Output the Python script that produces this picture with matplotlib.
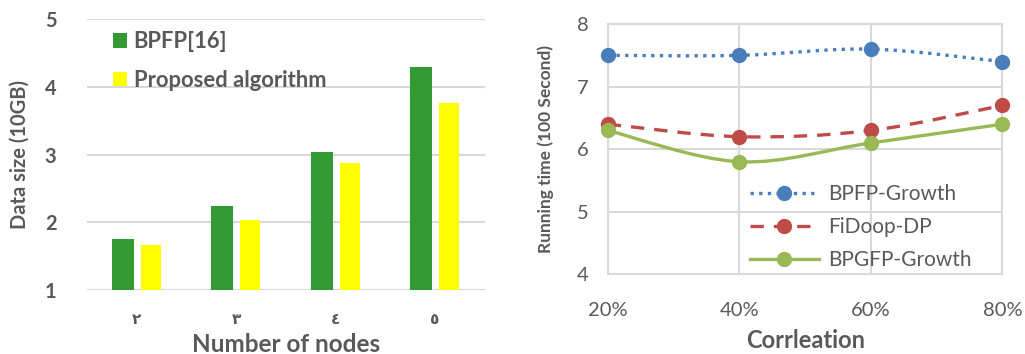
import matplotlib
matplotlib.use("Agg")
import matplotlib.pyplot as plt
import numpy as np
from matplotlib.path import Path
from matplotlib.patches import PathPatch
from matplotlib.lines import Line2D

# ---- data ----
nodes_labels = ["٢", "٣", "٤", "٥"]
bpfp16 = [1.75, 2.24, 3.03, 4.29]
proposed = [1.67, 2.03, 2.87, 3.76]

corr_labels = ["20%", "40%", "60%", "80%"]
bpfp_growth = [7.5, 7.5, 7.6, 7.4]
fidoop_dp = [6.4, 6.2, 6.3, 6.7]
bpgfp_growth = [6.3, 5.8, 6.1, 6.4]

TXT = "#595959"
GRID = "#d9d9d9"
FONT = ["Lato", "DejaVu Sans"]
plt.rcParams["font.family"] = FONT

fig = plt.figure(figsize=(10.25, 3.54), dpi=100)

# ---- left bar chart ----
ax1 = fig.add_axes([0.085, 0.181, 0.388, 0.765])
x = np.arange(len(nodes_labels))
ax1.bar(x - 0.14, [v - 1 for v in bpfp16], 0.22, bottom=1, color="#339933", label="BPFP[16]", zorder=3)
ax1.bar(x + 0.14, [v - 1 for v in proposed], 0.2, bottom=1, color="#ffff00", label="Proposed algorithm", zorder=3)
ax1.set_xlim(-0.5, 3.5)
ax1.set_ylim(1, 5)
ax1.set_yticks([1, 2, 3, 4, 5])
ax1.yaxis.grid(True, color=GRID, linewidth=1.5, zorder=0)
for s in ax1.spines.values():
    s.set_visible(False)
ax1.tick_params(length=0)
ax1.set_xticks(x)
ax1.set_xticklabels(nodes_labels, fontsize=11, color=TXT, fontweight="bold", family=["DejaVu Sans"])
ax1.tick_params(axis="x", pad=16)
ax1.tick_params(axis="y", pad=22)
for t in ax1.get_yticklabels():
    t.set_fontsize(14.5)
    t.set_fontweight("bold")
    t.set_color(TXT)
ax1.set_ylabel("Data size (10GB)", fontsize=14.5, fontweight="bold", color=TXT, labelpad=11)
ax1.set_xlabel("Number of nodes", fontsize=17.5, fontweight="bold", color=TXT, labelpad=4)
leg1 = ax1.legend(loc="upper left", bbox_to_anchor=(0.065, 0.955), frameon=False,
                  borderpad=0, borderaxespad=0,
                  handlelength=0.64, handleheight=0.64, handletextpad=0.3,
                  labelspacing=0.8, prop={"size": 15.8, "weight": "bold"})
for t in leg1.get_texts():
    t.set_color(TXT)

# ---- right line chart ----
ax2 = fig.add_axes([0.593, 0.225, 0.385, 0.707])
xp = np.arange(len(corr_labels))


def smooth_path(xs, ys):
    xs = np.asarray(xs, float)
    ys = np.asarray(ys, float)
    verts = [(xs[0], ys[0])]
    codes = [Path.MOVETO]
    n = len(xs)
    for i in range(n - 1):
        p0 = np.array([xs[max(i - 1, 0)], ys[max(i - 1, 0)]])
        p1 = np.array([xs[i], ys[i]])
        p2 = np.array([xs[i + 1], ys[i + 1]])
        p3 = np.array([xs[min(i + 2, n - 1)], ys[min(i + 2, n - 1)]])
        c1 = p1 + (p2 - p0) / 6.0
        c2 = p2 - (p3 - p1) / 6.0
        verts += [tuple(c1), tuple(c2), tuple(p2)]
        codes += [Path.CURVE4] * 3
    return Path(verts, codes)


series = [
    (bpfp_growth, "#4a7ebb", (0, (1, 1.6)), "BPFP-Growth"),
    (fidoop_dp, "#be4b48", (0, (4, 3)), "FiDoop-DP"),
    (bpgfp_growth, "#98b954", "-", "BPGFP-Growth"),
]
handles = []
for ys, col, ls, lab in series:
    patch = PathPatch(smooth_path(xp, ys), facecolor="none", edgecolor=col,
                      linewidth=2.4, linestyle=ls, zorder=3, clip_on=False)
    ax2.add_patch(patch)
    ax2.plot(xp, ys, linestyle="none", marker="o", markersize=10, color=col,
             zorder=4, clip_on=False)
    handles.append(Line2D([], [], color=col, linestyle=ls, linewidth=2.4,
                          marker="o", markersize=10, label=lab))

ax2.set_xlim(0, 3)
ax2.set_ylim(4, 8)
ax2.set_xticks(xp)
ax2.set_xticklabels(corr_labels)
ax2.set_yticks([4, 5, 6, 7, 8])
ax2.grid(True, color=GRID, linewidth=1.5, zorder=0)
for s in ax2.spines.values():
    s.set_color(GRID)
    s.set_linewidth(1.5)
ax2.tick_params(length=0, labelsize=14.5, colors=TXT)
ax2.tick_params(axis="x", pad=20)
ax2.tick_params(axis="y", pad=14)
ax2.set_ylabel("Running time (100 Second)", fontsize=12.5, fontweight="bold", color=TXT, labelpad=16)
ax2.set_xlabel("Corrleation", fontsize=17, fontweight="bold", color=TXT, labelpad=7)
leg2 = ax2.legend(handles=handles, loc="lower left", bbox_to_anchor=(0.36, 0.017),
                  frameon=False, borderpad=0, borderaxespad=0,
                  handlelength=3.3, handletextpad=0.45,
                  labelspacing=0.63, prop={"size": 15})
for t in leg2.get_texts():
    t.set_color(TXT)

fig.savefig("out.png", dpi=100)
